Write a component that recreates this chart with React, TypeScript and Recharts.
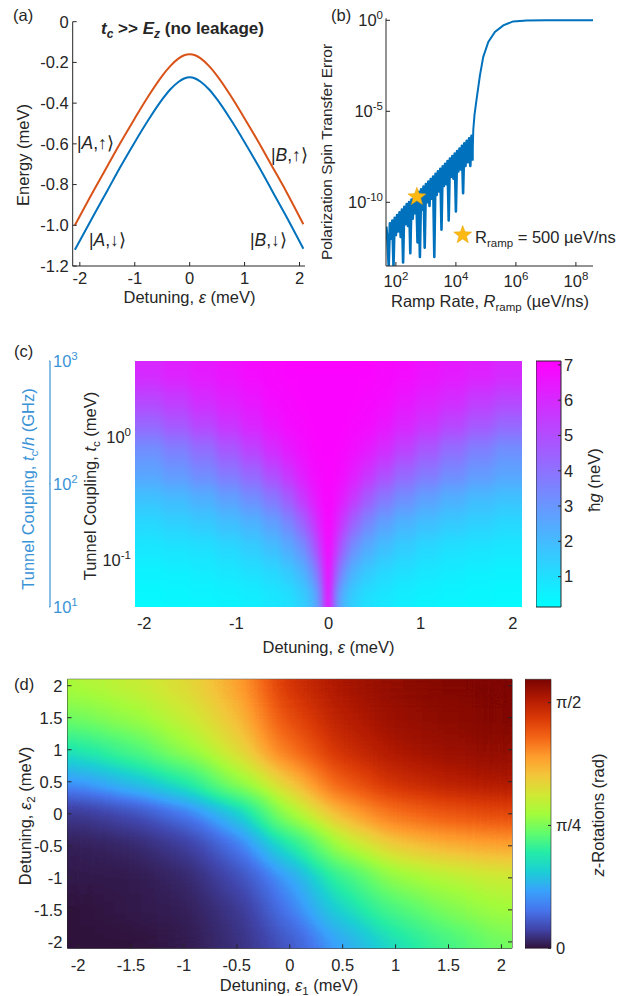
import React from "react";
import {
  ComposedChart,
  LineChart,
  Line,
  Scatter,
  ScatterChart,
  XAxis,
  YAxis,
  ReferenceArea,
} from "recharts";

const FONT = '"Liberation Sans", Arial, Helvetica, sans-serif';
const INK = "#262626";
const BLUE = "#0072BD";
const ORANGE = "#D95319";
const AXIS_BLUE = "#3a93d6";
const STAR = "#FDB913";
const FS = 16.5;

// ── (a) energy levels vs detuning ───────────────────────────────────────
const detuningA = [-2.09, -1.75, -1.5, -1.25, -1.0, -0.75, -0.5, -0.35, -0.2, -0.1, 0, 0.1, 0.2, 0.35, 0.5, 0.75, 1.0, 1.25, 1.5, 1.75, 2.07];
const energyUpper = [-1.0, -0.83, -0.71, -0.59, -0.475, -0.365, -0.266, -0.217, -0.18, -0.165, -0.16, -0.165, -0.18, -0.217, -0.266, -0.365, -0.475, -0.59, -0.71, -0.83, -0.995];
const energyLower = [-1.12, -0.952, -0.83, -0.708, -0.592, -0.482, -0.382, -0.332, -0.295, -0.279, -0.273, -0.279, -0.295, -0.332, -0.382, -0.482, -0.592, -0.708, -0.83, -0.952, -1.115];
const ticksAx = [-2, -1, 0, 1, 2];
const ticksAy = [-1.2, -1.0, -0.8, -0.6, -0.4, -0.2, 0];

// ── (b) transfer error vs ramp rate (log10 of both) ─────────────────────
const rampExp = [
  1.68, 1.72, 1.76, 1.8, 1.84, 1.88, 1.92, 1.96, 2.0, 2.04, 2.08, 2.12, 2.16, 2.2, 2.24, 2.28, 2.32, 2.36, 2.4, 2.44,
  2.48, 2.52, 2.56, 2.6, 2.64, 2.68, 2.72, 2.76, 2.8, 2.84, 2.88, 2.92, 2.96, 3.0, 3.04, 3.08, 3.12, 3.16, 3.2, 3.24,
  3.28, 3.32, 3.36, 3.4, 3.44, 3.48, 3.52, 3.56, 3.6, 3.64, 3.68, 3.72, 3.76, 3.8, 3.84, 3.88, 3.92, 3.96, 4.0, 4.04,
  4.08, 4.12, 4.16, 4.2, 4.24, 4.28, 4.32, 4.36, 4.4, 4.44, 4.48, 4.52,
  4.55, 4.58, 4.62, 4.69, 4.8, 4.91, 5.08, 5.3, 5.58, 5.91, 6.36, 7.0, 8.0, 8.57,
];
const errorExp = [
  -11.33, -12.1, -13.5, -11.15, -12.0, -11.0, -13.5, -10.85, -11.8, -10.7,
  -11.6, -10.55, -11.9, -10.4, -13.3, -10.25, -11.2, -10.1, -11.3, -9.98,
  -12.8, -9.85, -10.9, -9.7, -10.6, -9.58, -12.2, -9.42, -13.0, -9.28,
  -10.4, -9.14, -12.5, -9.0, -10.0, -8.86, -10.2, -8.72, -9.8, -8.58,
  -13.0, -8.44, -9.6, -8.3, -9.4, -8.16, -11.5, -8.02, -9.1, -7.88,
  -9.0, -7.74, -11.0, -7.6, -8.6, -7.46, -8.7, -7.32, -10.5, -7.18,
  -8.3, -7.04, -8.2, -6.9, -9.5, -6.76, -8.0, -6.62, -7.8, -6.48,
  -8.0, -6.34,
  -7.7, -6.0, -5.2, -4.33, -3.04, -2.02, -1.19, -0.64, -0.28, -0.06, -0.01, 0, 0, 0,
];
const noisyUntil = 4.55; // last ramp rate (log10) of the oscillating part
const starPoint = [{ x: 2.7, y: -9.7 }]; // 500 µeV/ns
const ticksBx = [2, 4, 6, 8];
const ticksBy = [-10, -5, 0];

// ── (c) ħg map: detuning vs log10 tunnel coupling ───────────────────────
const epsC = [-1.95, -1.65, -1.35, -1.075, -0.825, -0.6, -0.425, -0.285, -0.17, -0.085, 0, 0.085, 0.17, 0.285, 0.425, 0.6, 0.825, 1.075, 1.35, 1.65, 1.95];
const logTcC = [-1.29, -1.1, -0.9, -0.7, -0.5, -0.3, -0.1, 0.1, 0.3, 0.51];
const hgC = [
  [0.3, 0.35, 0.4, 0.5, 0.6, 0.8, 1.0, 1.4, 2.0, 3.3, 7.0, 3.3, 2.0, 1.4, 1.0, 0.8, 0.6, 0.5, 0.4, 0.35, 0.3],
  [0.5, 0.55, 0.65, 0.8, 1.0, 1.2, 1.6, 2.1, 3.0, 4.5, 7.0, 4.5, 3.0, 2.1, 1.6, 1.2, 1.0, 0.8, 0.65, 0.55, 0.5],
  [0.8, 0.9, 1.0, 1.2, 1.5, 1.9, 2.4, 3.1, 4.2, 5.6, 7.0, 5.6, 4.2, 3.1, 2.4, 1.9, 1.5, 1.2, 1.0, 0.9, 0.8],
  [1.2, 1.4, 1.6, 1.9, 2.2, 2.7, 3.4, 4.3, 5.3, 6.3, 7.0, 6.3, 5.3, 4.3, 3.4, 2.7, 2.2, 1.9, 1.6, 1.4, 1.2],
  [1.8, 2.0, 2.3, 2.7, 3.2, 3.8, 4.6, 5.5, 6.2, 6.7, 7.0, 6.7, 6.2, 5.5, 4.6, 3.8, 3.2, 2.7, 2.3, 2.0, 1.8],
  [2.6, 2.9, 3.3, 3.8, 4.3, 5.0, 5.7, 6.3, 6.7, 6.9, 7.0, 6.9, 6.7, 6.3, 5.7, 5.0, 4.3, 3.8, 3.3, 2.9, 2.6],
  [3.2, 3.6, 4.1, 4.7, 5.3, 5.9, 6.4, 6.7, 6.9, 7.0, 7.0, 7.0, 6.9, 6.7, 6.4, 5.9, 5.3, 4.7, 4.1, 3.6, 3.2],
  [4.3, 4.7, 5.2, 5.7, 6.1, 6.5, 6.8, 6.9, 7.0, 7.0, 7.0, 7.0, 7.0, 6.9, 6.8, 6.5, 6.1, 5.7, 5.2, 4.7, 4.3],
  [5.2, 5.5, 5.9, 6.2, 6.5, 6.8, 6.9, 7.0, 7.0, 7.0, 7.0, 7.0, 7.0, 7.0, 6.9, 6.8, 6.5, 6.2, 5.9, 5.5, 5.2],
  [6.0, 6.2, 6.4, 6.6, 6.8, 6.9, 7.0, 7.0, 7.0, 7.0, 7.0, 7.0, 7.0, 7.0, 7.0, 6.9, 6.8, 6.6, 6.4, 6.2, 6.0],
];
const hgRange: [number, number] = [0.14, 7.11];
const hgTicks = [1, 2, 3, 4, 5, 6, 7];
const ticksCx = [-2, -1, 0, 1, 2];
const ticksCy = [-1, 0];
const ghzRange: [number, number] = [1, 3];
const ghzTicks = [1, 2, 3];

// ── (d) z-rotation map over two detunings ───────────────────────────────
const eps1D = [-2, -1.5, -1, -0.5, 0, 0.5, 1, 1.5, 2];
const eps2D = [-2, -1.5, -1, -0.5, 0, 0.5, 1, 1.5, 2];
const zRotD = [
  [0.0, 0.0, 0.02, 0.07, 0.17, 0.38, 0.55, 0.67, 0.77],
  [0.0, 0.02, 0.03, 0.09, 0.26, 0.52, 0.69, 0.79, 0.86],
  [0.02, 0.02, 0.05, 0.14, 0.36, 0.65, 0.83, 0.91, 0.96],
  [0.03, 0.05, 0.1, 0.24, 0.57, 0.89, 1.08, 1.16, 1.2],
  [0.09, 0.14, 0.24, 0.46, 0.86, 1.16, 1.32, 1.39, 1.43],
  [0.34, 0.45, 0.6, 0.83, 1.1, 1.38, 1.52, 1.58, 1.61],
  [0.58, 0.69, 0.83, 1.03, 1.32, 1.52, 1.61, 1.65, 1.67],
  [0.77, 0.84, 0.95, 1.12, 1.42, 1.58, 1.65, 1.68, 1.7],
  [0.89, 0.95, 1.03, 1.2, 1.5, 1.62, 1.67, 1.7, 1.71],
];
const zRange: [number, number] = [0, 1.72];
const ticksD = [-2, -1.5, -1, -0.5, 0, 0.5, 1, 1.5, 2];
const zTicks = [0, Math.PI / 4, Math.PI / 2];
const zTickLabels = ["0", "π/4", "π/2"];

const unitData = [{ x: 0 }, { x: 1 }];

// ── colormaps ────────────────────────────────────────────────────────────
const clamp01 = (v: number) => Math.max(0, Math.min(1, v));
const TURBO_HEX = [
  "#30123b", "#4145ab", "#4675ed", "#39a2fc", "#1bcfd4", "#24eca6", "#61fc6c", "#a4fc3b",
  "#d1e834", "#f3c63a", "#fe9b2d", "#f36315", "#d93806", "#b11901", "#7a0402",
];
const TURBO_RGB = TURBO_HEX.map((h) => [1, 3, 5].map((k) => parseInt(h.slice(k, k + 2), 16) / 255));
function turbo(t: number): number[] {
  const x = clamp01(t) * (TURBO_RGB.length - 1);
  const i = Math.min(TURBO_RGB.length - 2, Math.floor(x));
  const f = x - i;
  return TURBO_RGB[i].map((c, k) => c + (TURBO_RGB[i + 1][k] - c) * f);
}
// arc-length warp so each grey level moves the turbo colour by a similar step
const WARP_N = 1000;
const turboArc: number[] = (() => {
  const s = [0];
  let prev = turbo(0);
  for (let i = 1; i <= WARP_N; i++) {
    const c = turbo(i / WARP_N);
    s.push(s[i - 1] + Math.abs(c[0] - prev[0]) + Math.abs(c[1] - prev[1]) + Math.abs(c[2] - prev[2]) + 2e-4);
    prev = c;
  }
  return s.map((v) => v / s[WARP_N]);
})();
const warp = (t: number) => {
  const x = clamp01(t) * WARP_N;
  const i = Math.min(WARP_N - 1, Math.floor(x));
  return turboArc[i] + (turboArc[i + 1] - turboArc[i]) * (x - i);
};
const unwarp = (g: number) => {
  let lo = 0;
  let hi = WARP_N;
  while (hi - lo > 1) {
    const mid = (lo + hi) >> 1;
    if (turboArc[mid] <= g) lo = mid;
    else hi = mid;
  }
  const f = (g - turboArc[lo]) / (turboArc[hi] - turboArc[lo] || 1);
  return (lo + clamp01(f)) / WARP_N;
};
const TABLE_N = 160;
const turboTable = (k: number) =>
  Array.from({ length: TABLE_N + 1 }, (_, i) => turbo(unwarp(i / TABLE_N))[k].toFixed(4)).join(" ");
const rgb = (c: number[]) => `rgb(${c.map((v) => Math.round(v * 255)).join(",")})`;

// ── heat-map cells ───────────────────────────────────────────────────────
function edges(centers: number[], lo: number, hi: number) {
  const e = [lo];
  for (let i = 1; i < centers.length; i++) e.push((centers[i - 1] + centers[i]) / 2);
  e.push(hi);
  return e;
}
function buildCells(
  xs: number[], ys: number[], vals: number[][], xDom: number[], yDom: number[], vr: number[],
  enc: (t: number) => number
) {
  const xe = edges(xs, xDom[0], xDom[1]);
  const ye = edges(ys, yDom[0], yDom[1]);
  const out: { x: number; y: number; w: number; h: number; g: number }[] = [];
  ys.forEach((_, j) =>
    xs.forEach((__, i) => {
      out.push({
        x: (xe[i] + xe[i + 1]) / 2,
        y: (ye[j] + ye[j + 1]) / 2,
        w: xe[i + 1] - xe[i],
        h: ye[j + 1] - ye[j],
        g: enc((vals[j][i] - vr[0]) / (vr[1] - vr[0])),
      });
    })
  );
  return out;
}
const cellShape = (pxX: number, pxY: number) => (p: any) => {
  const w = p.payload.w * pxX + 0.8;
  const h = p.payload.h * pxY + 0.8;
  const g = Math.round(clamp01(p.payload.g) * 255);
  return <rect x={p.cx - w / 2} y={p.cy - h / 2} width={w} height={h} fill={`rgb(${g},${g},${g})`} />;
};

// ── ticks ────────────────────────────────────────────────────────────────
type Fmt = (v: number) => React.ReactNode;
const pow10: Fmt = (v) => (
  <>
    10<tspan fontSize={11.5} dy={-7}>{v}</tspan>
  </>
);
const bottomTick = (fmt: Fmt, gap: number, mark = 4, color = INK) => (p: any) => (
  <g>
    {mark > 0 && <line x1={p.x} x2={p.x} y1={p.y} y2={p.y - mark} stroke={color} />}
    <text x={p.x} y={p.y + gap} textAnchor="middle" fontFamily={FONT} fontSize={FS} fill={color}>
      {fmt(p.payload.value)}
    </text>
  </g>
);
const leftTick = (fmt: Fmt, gap: number, mark = 4, color = INK) => (p: any) => (
  <g>
    {mark > 0 && <line x1={p.x} x2={p.x + mark} y1={p.y} y2={p.y} stroke={color} />}
    <text x={p.x - gap} y={p.y + 5.8} textAnchor="end" fontFamily={FONT} fontSize={FS} fill={color}>
      {fmt(p.payload.value)}
    </text>
  </g>
);
const rightTick = (fmt: Fmt, gap: number, mark = 4, color = INK) => (p: any) => (
  <g>
    {mark > 0 && <line x1={p.x} x2={p.x - mark} y1={p.y} y2={p.y} stroke={color} />}
    <text x={p.x + gap} y={p.y + 5.8} textAnchor="start" fontFamily={FONT} fontSize={FS} fill={color}>
      {fmt(p.payload.value)}
    </text>
  </g>
);
const rightMark = (mark = 4) => (p: any) => (
  <line x1={p.x} x2={p.x - mark} y1={p.y} y2={p.y} stroke={INK} />
);
const topMark = (mark = 4) => (p: any) => (
  <line x1={p.x} x2={p.x} y1={p.y} y2={p.y + mark} stroke={INK} />
);

function starPoints(cx: number, cy: number, R: number, r: number) {
  const pts: string[] = [];
  for (let k = 0; k < 10; k++) {
    const a = -Math.PI / 2 + (k * Math.PI) / 5;
    const rad = k % 2 === 0 ? R : r;
    pts.push(`${cx + rad * Math.cos(a)},${cy + rad * Math.sin(a)}`);
  }
  return pts.join(" ");
}
const StarShape = (p: any) => (
  <polygon points={starPoints(p.cx, p.cy, 9.5, 4)} fill={STAR} stroke="#E3A008" strokeWidth={0.5} />
);

// subscript followed by the rest of the label on the baseline again
const sub = (s: string, rest: string) => (
  <>
    <tspan fontSize={11.5} dy={4}>{s}</tspan>
    <tspan dy={-4}>{rest}</tspan>
  </>
);

// plot geometry (pixels per data unit) for the heat-map cells
const PXC_X = 387 / 4.2;
const PXC_Y = 246 / 2.0;
const PXD_X = 444.5 / 4.2;
const PXD_Y = 269 / 4.2;

export default function App() {
  const dataA = detuningA.map((e, i) => ({ e, up: energyUpper[i], down: energyLower[i] }));
  const dataB = rampExp.map((x, i) => ({
    x,
    noisy: x <= noisyUntil ? errorExp[i] : null,
    smooth: x >= noisyUntil ? errorExp[i] : null,
  }));
  const cellsC = buildCells(epsC, logTcC, hgC, [-2.1, 2.1], [-1.383, 0.617], hgRange, (t) => t);
  const cellsD = buildCells(eps1D, eps2D, zRotD, [-2.1, 2.1], [-2.1, 2.1], zRange, warp);

  const txt = { fontFamily: FONT, fontSize: FS, fill: INK } as const;
  const abs = (left: number, top: number): React.CSSProperties => ({ position: "absolute", left, top });

  return (
    <div style={{ position: "absolute", left: 0, top: 0, width: 621, height: 996, background: "#fff", overflow: "hidden" }}>
      <style>{`.heatC .recharts-scatter{filter:url(#fC)} .heatD .recharts-scatter{filter:url(#fD)}`}</style>
      <svg width={0} height={0} style={{ position: "absolute" }}>
        <defs>
          <filter id="fC" x="0" y="0" width="1" height="1" colorInterpolationFilters="sRGB">
            <feGaussianBlur stdDeviation="3.5 9" />
            <feComponentTransfer>
              <feFuncR type="table" tableValues="0 1" />
              <feFuncG type="table" tableValues="1 0" />
              <feFuncB type="table" tableValues="1 1" />
              <feFuncA type="discrete" tableValues="1" />
            </feComponentTransfer>
          </filter>
          <filter id="fD" x="0" y="0" width="1" height="1" colorInterpolationFilters="sRGB">
            <feGaussianBlur stdDeviation="19 12" />
            <feComponentTransfer>
              <feFuncR type="table" tableValues={turboTable(0)} />
              <feFuncG type="table" tableValues={turboTable(1)} />
              <feFuncB type="table" tableValues={turboTable(2)} />
              <feFuncA type="discrete" tableValues="1" />
            </feComponentTransfer>
          </filter>
          <linearGradient id="cbC" x1="0" y1="1" x2="0" y2="0">
            <stop offset="0" stopColor="rgb(0,255,255)" />
            <stop offset="1" stopColor="rgb(255,0,255)" />
          </linearGradient>
          <linearGradient id="cbD" x1="0" y1="1" x2="0" y2="0">
            {TURBO_RGB.map((c, i) => (
              <stop key={i} offset={i / (TURBO_RGB.length - 1)} stopColor={rgb(c)} />
            ))}
          </linearGradient>
        </defs>
      </svg>

      {/* (a) */}
      <div style={abs(0, 0)}>
        <LineChart width={320} height={300} data={dataA} margin={{ top: 21.7, right: 15, bottom: 0, left: 0 }}>
          <XAxis dataKey="e" type="number" domain={[-2.13, 2.1]} ticks={ticksAx} interval={0} height={34}
            tickSize={0} tickMargin={0} tickLine={false} axisLine={{ stroke: INK }} allowDataOverflow
            tick={bottomTick((v) => String(v), 18)} />
          <YAxis type="number" domain={[-1.2, 0]} ticks={ticksAy} interval={0} width={72.7}
            tickSize={0} tickMargin={0} tickLine={false} axisLine={{ stroke: INK }} allowDataOverflow
            tick={leftTick((v) => (v === 0 ? "0" : v.toFixed(1)), 4)} />
          <Line dataKey="up" type="monotone" stroke={ORANGE} strokeWidth={2} dot={false} isAnimationActive={false} />
          <Line dataKey="down" type="monotone" stroke={BLUE} strokeWidth={2} dot={false} isAnimationActive={false} />
        </LineChart>
      </div>

      {/* (b) */}
      <div style={abs(310, 0)}>
        <ComposedChart width={300} height={300} data={dataB} margin={{ top: 18.3, right: 17, bottom: 0, left: 0 }}>
          <XAxis dataKey="x" type="number" domain={[1.67, 8.57]} ticks={ticksBx} interval={0} height={34}
            tickSize={0} tickMargin={0} tickLine={false} axisLine={{ stroke: INK }} allowDataOverflow
            tick={bottomTick(pow10, 21)} />
          <YAxis dataKey="y" type="number" domain={[-13.5, 0.11]} ticks={ticksBy} interval={0} width={76}
            tickSize={0} tickMargin={0} tickLine={false} axisLine={{ stroke: INK }} allowDataOverflow
            tick={leftTick(pow10, 3)} />
          <Line dataKey="noisy" type="linear" stroke={BLUE} strokeWidth={2.6} strokeLinejoin="round" dot={false}
            isAnimationActive={false} />
          <Line dataKey="smooth" type="linear" stroke={BLUE} strokeWidth={2} dot={false} isAnimationActive={false} />
          <Scatter data={starPoint} dataKey="y" shape={StarShape} isAnimationActive={false} />
        </ComposedChart>
      </div>

      {/* (c) secondary GHz axis */}
      <div style={abs(49, 340)}>
        <ComposedChart width={40} height={307} data={unitData} margin={{ top: 21, right: 0, bottom: 40, left: 0 }}>
          <XAxis dataKey="x" type="number" domain={[0, 1]} hide />
          <YAxis orientation="right" type="number" domain={ghzRange} ticks={ghzTicks} interval={0} width={39}
            tickSize={0} tickMargin={0} tickLine={false} axisLine={{ stroke: AXIS_BLUE, strokeWidth: 1.2 }}
            allowDataOverflow tick={rightTick(pow10, 3, 3, AXIS_BLUE)} />
          <ReferenceArea x1={0} x2={1} y1={ghzRange[0]} y2={ghzRange[1]} fill="none" fillOpacity={0}
            stroke="none" ifOverflow="visible" />
        </ComposedChart>
      </div>

      {/* (c) heat map */}
      <div className="heatC" style={abs(55, 340)}>
        <ScatterChart width={467} height={307} margin={{ top: 21, right: 0, bottom: 0, left: 0 }}>
          <XAxis dataKey="x" type="number" domain={[-2.1, 2.1]} ticks={ticksCx} interval={0} height={40}
            tickSize={0} tickMargin={0} tickLine={false} axisLine={false} allowDataOverflow
            tick={bottomTick((v) => String(v), 21.5, 0)} />
          <YAxis dataKey="y" type="number" domain={[-1.383, 0.617]} ticks={ticksCy} interval={0} width={80}
            tickSize={0} tickMargin={0} tickLine={false} axisLine={false} allowDataOverflow
            tick={leftTick(pow10, 4, 0)} />
          <Scatter data={cellsC} shape={cellShape(PXC_X, PXC_Y)} isAnimationActive={false} />
        </ScatterChart>
      </div>

      {/* (c) colour bar */}
      <div style={abs(536, 340)}>
        <ComposedChart width={60} height={307} data={unitData} margin={{ top: 21, right: 0, bottom: 40, left: 0 }}>
          <XAxis dataKey="x" type="number" domain={[0, 1]} hide />
          <YAxis orientation="right" type="number" domain={hgRange} ticks={hgTicks} interval={0} width={35}
            tickSize={0} tickMargin={0} tickLine={false} axisLine={false} allowDataOverflow
            tick={rightTick((v) => String(v), 3, 3)} />
          <ReferenceArea x1={0} x2={1} y1={hgRange[0]} y2={hgRange[1]} fill="url(#cbC)" fillOpacity={1}
            stroke={INK} strokeWidth={1} ifOverflow="visible" />
        </ComposedChart>
      </div>

      {/* (d) heat map */}
      <div className="heatD" style={abs(0, 660)}>
        <ScatterChart width={515} height={336} margin={{ top: 18.3, right: 2, bottom: 0, left: 0 }}>
          <Scatter data={cellsD} xAxisId="b" yAxisId="l" shape={cellShape(PXD_X, PXD_Y)} isAnimationActive={false} />
          <XAxis xAxisId="b" dataKey="x" type="number" domain={[-2.1, 2.1]} ticks={ticksD} interval={0} height={47.7}
            tickSize={0} tickMargin={0} tickLine={false} axisLine={{ stroke: INK }} allowDataOverflow
            tick={bottomTick((v) => String(v), 22.7, 4)} />
          <XAxis xAxisId="t" orientation="top" type="number" domain={[-2.1, 2.1]} ticks={ticksD} interval={0} height={1}
            tickSize={0} tickMargin={0} tickLine={false} axisLine={{ stroke: INK }} allowDataOverflow
            tick={topMark(4)} />
          <YAxis yAxisId="l" dataKey="y" type="number" domain={[-2.1, 2.1]} ticks={ticksD} interval={0} width={67.5}
            tickSize={0} tickMargin={0} tickLine={false} axisLine={{ stroke: INK }} allowDataOverflow
            tick={leftTick((v) => String(v), 5, 4)} />
          <YAxis yAxisId="r" orientation="right" type="number" domain={[-2.1, 2.1]} ticks={ticksD} interval={0} width={1}
            tickSize={0} tickMargin={0} tickLine={false} axisLine={{ stroke: INK }} allowDataOverflow
            tick={rightMark(4)} />
        </ScatterChart>
      </div>

      {/* (d) colour bar */}
      <div style={abs(524.5, 660)}>
        <ComposedChart width={66} height={336} data={unitData} margin={{ top: 19.3, right: 0, bottom: 47.7, left: 0 }}>
          <XAxis dataKey="x" type="number" domain={[0, 1]} hide />
          <YAxis orientation="right" type="number" domain={zRange} ticks={zTicks} interval={0} width={40}
            tickSize={0} tickMargin={0} tickLine={false} axisLine={false} allowDataOverflow
            tick={rightTick((v) => zTickLabels[zTicks.indexOf(v)] ?? String(v), 5, 3)} />
          <ReferenceArea x1={0} x2={1} y1={zRange[0]} y2={zRange[1]} fill="url(#cbD)" fillOpacity={1}
            stroke={INK} strokeWidth={0.6} ifOverflow="visible" />
        </ComposedChart>
      </div>

      {/* text annotations */}
      <svg width={621} height={996} style={{ position: "absolute", left: 0, top: 0, pointerEvents: "none" }}>
        {/* (a) */}
        <text x={13} y={20.5} {...txt}>(a)</text>
        <text x={101} y={34} {...txt} fontSize={17} fontWeight="bold">
          <tspan fontStyle="italic">t</tspan>
          <tspan fontSize={12} dy={4} fontStyle="italic">c</tspan>
          <tspan dy={-4}>{" >> "}</tspan>
          <tspan fontStyle="italic">E</tspan>
          <tspan fontSize={12} dy={4} fontStyle="italic">z</tspan>
          <tspan dy={-4}>{" (no leakage)"}</tspan>
        </text>
        <text x={77} y={149} {...txt} fontSize={17.5}>|<tspan fontStyle="italic">A</tspan>,↑⟩</text>
        <text x={271} y={161} {...txt} fontSize={17.5}>|<tspan fontStyle="italic">B</tspan>,↑⟩</text>
        <text x={89} y={246} {...txt} fontSize={17.5}>|<tspan fontStyle="italic">A</tspan>,↓⟩</text>
        <text x={250} y={246} {...txt} fontSize={17.5}>|<tspan fontStyle="italic">B</tspan>,↓⟩</text>
        <text x={189.5} y={303} textAnchor="middle" {...txt}>
          Detuning, <tspan fontStyle="italic">ε</tspan> (meV)
        </text>
        <text transform="translate(28.5,155) rotate(-90)" textAnchor="middle" {...txt}>Energy (meV)</text>

        {/* (b) */}
        <text x={331} y={20.5} {...txt}>(b)</text>
        <text transform="translate(332,152) rotate(-90)" textAnchor="middle" {...txt} fontSize={15.5}>
          Polarization Spin Transfer Error
        </text>
        <text x={490} y={307} textAnchor="middle" {...txt}>
          Ramp Rate, <tspan fontStyle="italic">R</tspan>{sub("ramp", " (µeV/ns)")}
        </text>
        <polygon points={starPoints(462.7, 235, 9.5, 4)} fill={STAR} stroke="#E3A008" strokeWidth={0.5} />
        <text x={475} y={243} {...txt}>
          R{sub("ramp", " = 500 µeV/ns")}
        </text>

        {/* (c) */}
        <text x={14} y={357} {...txt}>(c)</text>
        <text transform="translate(34,489) rotate(-90)" textAnchor="middle" {...txt} fill={AXIS_BLUE}>
          Tunnel Coupling, <tspan fontStyle="italic">t</tspan>{sub("c", "/")}<tspan fontStyle="italic">h</tspan> (GHz)
        </text>
        <text transform="translate(96,486) rotate(-90)" textAnchor="middle" {...txt}>
          Tunnel Coupling, <tspan fontStyle="italic">t</tspan>{sub("c", " (meV)")}
        </text>
        <text x={328.5} y={653} textAnchor="middle" {...txt}>
          Detuning, <tspan fontStyle="italic">ε</tspan> (meV)
        </text>
        <text transform="translate(600,480) rotate(-90)" textAnchor="middle" {...txt}>
          ħ<tspan fontStyle="italic">g</tspan> (neV)
        </text>

        {/* (d) */}
        <text x={14} y={690} {...txt}>(d)</text>
        <text transform="translate(31,816) rotate(-90)" textAnchor="middle" {...txt}>
          Detuning, <tspan fontStyle="italic">ε</tspan>{sub("2", " (meV)")}
        </text>
        <text x={289} y={991} textAnchor="middle" {...txt}>
          Detuning, <tspan fontStyle="italic">ε</tspan>{sub("1", " (meV)")}
        </text>
        <text transform="translate(604,815) rotate(-90)" textAnchor="middle" {...txt}>
          <tspan fontStyle="italic">z</tspan>-Rotations (rad)
        </text>
      </svg>
    </div>
  );
}
